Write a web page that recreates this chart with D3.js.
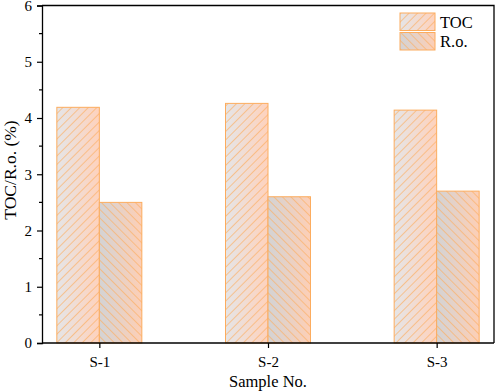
<!DOCTYPE html>
<html>
<head>
<meta charset="utf-8">
<script src="https://cdn.jsdelivr.net/npm/d3@7"></script>
<style>
  body { margin: 0; background: #fff; }
  text { font-family: "Liberation Serif", "Times New Roman", serif; fill: #000; }
</style>
</head>
<body>
<div id="chart"></div>
<script>
/* DATA */
const samples = ["S-1", "S-2", "S-3"];
const seriesNames = ["TOC", "R.o."];
const tocValues = [4.19, 4.26, 4.14];
const roValues = [2.50, 2.60, 2.70];
const yTicks = [0, 1, 2, 3, 4, 5, 6];

const width = 498, height = 392;
const margin = { top: 5.5, right: 4, bottom: 49, left: 42 };
const barW = 42.5;

const svg = d3.select("#chart").append("svg")
  .attr("width", width)
  .attr("height", height);

const defs = svg.append("defs");

// gradients: gray at left, peach at right
const grads = [
  { id: "gTOC", from: "#e5e5e7", to: "#fed2bd" },
  { id: "gRO", from: "#d3d3d5", to: "#fdcfb6" }
];
grads.forEach(g => {
  const lg = defs.append("linearGradient").attr("id", g.id)
    .attr("x1", 0).attr("x2", 1).attr("y1", 0).attr("y2", 0);
  lg.append("stop").attr("offset", "0%").attr("stop-color", g.from);
  lg.append("stop").attr("offset", "100%").attr("stop-color", g.to);
});

// hatch patterns
const hatches = [
  { id: "hTOC", angle: 45 },
  { id: "hRO", angle: -45 }
];
hatches.forEach(h => {
  const p = defs.append("pattern").attr("id", h.id)
    .attr("patternUnits", "userSpaceOnUse")
    .attr("width", 6).attr("height", 6)
    .attr("patternTransform", `rotate(${h.angle})`);
  p.append("line")
    .attr("x1", 0).attr("y1", 0).attr("x2", 0).attr("y2", 6)
    .attr("stroke", "#fcae62").attr("stroke-width", 1.3);
});

const x = d3.scalePoint()
  .domain(samples)
  .range([margin.left, width - margin.right])
  .padding(0.34);

const y = d3.scaleLinear()
  .domain([0, 6])
  .range([height - margin.bottom, margin.top]);

const rows = samples.map((s, i) => ({ sample: s, TOC: tocValues[i], "R.o.": roValues[i] }));

// bars
const styles = {
  "TOC": { grad: "url(#gTOC)", hatch: "url(#hTOC)", off: -barW },
  "R.o.": { grad: "url(#gRO)", hatch: "url(#hRO)", off: 0 }
};

seriesNames.forEach(name => {
  const st = styles[name];
  const g = svg.append("g").attr("class", "bars");
  g.selectAll(".fill").data(rows).join("rect")
    .attr("class", "fill")
    .attr("x", d => x(d.sample) + st.off)
    .attr("y", d => y(d[name]))
    .attr("width", barW)
    .attr("height", d => y(0) - y(d[name]))
    .attr("fill", st.grad);
  g.selectAll(".hatch").data(rows).join("rect")
    .attr("class", "hatch")
    .attr("x", d => x(d.sample) + st.off)
    .attr("y", d => y(d[name]))
    .attr("width", barW)
    .attr("height", d => y(0) - y(d[name]))
    .attr("fill", st.hatch)
    .attr("stroke", "#fcac5e")
    .attr("stroke-width", 1);
});

// frame (top and right)
svg.append("path")
  .attr("d", `M${margin.left},${margin.top}H${width - margin.right}V${y(0)}`)
  .attr("fill", "none").attr("stroke", "#000").attr("stroke-width", 1.3);

// y axis
const yAxis = svg.append("g")
  .attr("transform", `translate(${margin.left},0)`)
  .call(d3.axisLeft(y).tickValues(yTicks).tickSize(5).tickPadding(5).tickFormat(d3.format("d")));
yAxis.select(".domain").attr("stroke-width", 1.3);
yAxis.selectAll(".tick line").attr("stroke-width", 1.2);
yAxis.selectAll(".tick text").attr("font-size", 15).style("font-family", "Liberation Serif");

// y minor ticks
const minor = d3.range(0.5, 6, 1);
svg.append("g").selectAll("line").data(minor).join("line")
  .attr("x1", margin.left - 3).attr("x2", margin.left)
  .attr("y1", d => y(d)).attr("y2", d => y(d))
  .attr("stroke", "#000").attr("stroke-width", 1.2);

// x axis
const xAxis = svg.append("g")
  .attr("transform", `translate(0,${y(0)})`)
  .call(d3.axisBottom(x).tickSize(5).tickPadding(8).tickSizeOuter(0));
xAxis.select(".domain").attr("d", `M${margin.left},0H${width - margin.right}`).attr("stroke-width", 1.3);
xAxis.selectAll(".tick line").attr("stroke-width", 1.2);
xAxis.selectAll(".tick text").attr("font-size", 15).style("font-family", "Liberation Serif");

// axis titles
svg.append("text")
  .attr("x", (margin.left + width - margin.right) / 2)
  .attr("y", 387)
  .attr("text-anchor", "middle")
  .attr("font-size", 16.5)
  .text("Sample No.");

svg.append("text")
  .attr("transform", `translate(16,170) rotate(-90)`)
  .attr("text-anchor", "middle")
  .attr("font-size", 17.5)
  .text("TOC/R.o. (%)");

// legend
const legend = svg.append("g").attr("transform", "translate(400,13)");
seriesNames.forEach((name, i) => {
  const st = styles[name];
  const lg = legend.append("g").attr("transform", `translate(0,${i * 19.5})`);
  lg.append("rect").attr("width", 35).attr("height", 17.5).attr("fill", st.grad);
  lg.append("rect").attr("width", 35).attr("height", 17.5)
    .attr("fill", st.hatch).attr("stroke", "#fcac5e").attr("stroke-width", 1);
  lg.append("text").attr("x", 40).attr("y", 14.5).attr("font-size", 16.5).text(name);
});
</script>
</body>
</html>
